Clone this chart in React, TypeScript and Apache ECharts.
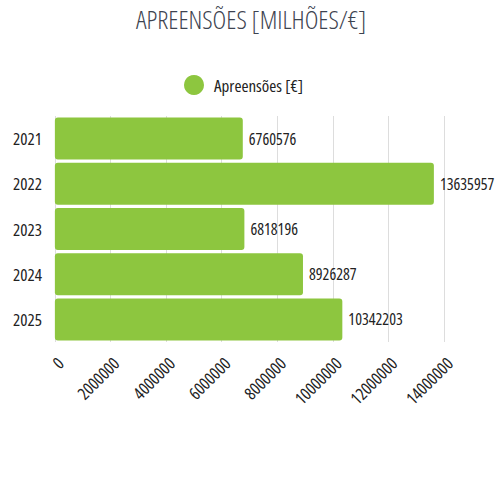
import React, { useEffect, useRef } from 'react';
import * as echarts from 'echarts';

// dados do gráfico
const years = ['2021', '2022', '2023', '2024', '2025'];
const seizures = [6760576, 13635957, 6818196, 8926287, 10342203];
const seriesName = 'Apreensões [€]';
const chartTitle = 'APREENSÕES [MILHÕES/€]';

// Open Sans é variável em largura: o CSS abaixo pede a versão estreita
const FONT = '"Open Sans"';

const App: React.FC = () => {
  const chartRef = useRef<HTMLDivElement>(null);

  useEffect(() => {
    if (!chartRef.current) return;
    const chart = echarts.init(chartRef.current, undefined, { renderer: 'svg' });

    const option: echarts.EChartsOption = {
      animation: false,
      title: {
        text: chartTitle,
        left: 131,
        top: 1,
        textStyle: {
          fontFamily: FONT,
          fontSize: 26,
          fontWeight: 300,
          color: '#3d4350',
        },
      },
      legend: {
        data: [seriesName],
        top: 70,
        left: 179,
        icon: 'circle',
        itemWidth: 20,
        itemHeight: 20,
        textStyle: {
          fontFamily: FONT,
          fontSize: 17,
          color: '#222',
          padding: [0, 0, 0, 5],
        },
      },
      grid: {
        left: 52,
        right: 56,
        top: 116,
        bottom: 158,
      },
      xAxis: {
        type: 'value',
        min: 0,
        max: 14000000,
        interval: 2000000,
        axisLine: { show: false },
        axisTick: { show: false },
        splitLine: { show: true, lineStyle: { color: '#dddddd', width: 1 } },
        axisLabel: {
          rotate: 45,
          margin: 24,
          fontFamily: FONT,
          fontSize: 17,
          color: '#222',
          padding: [0, -8, 0, 0],
          formatter: (v: number) => String(v),
        },
      },
      yAxis: {
        type: 'category',
        data: years,
        inverse: true,
        axisLine: { show: false },
        axisTick: { show: false },
        axisLabel: {
          margin: 13,
          fontFamily: FONT,
          fontSize: 17,
          color: '#222',
        },
      },
      series: [
        {
          name: seriesName,
          type: 'bar',
          data: seizures,
          barCategoryGap: '7%',
          itemStyle: { color: '#8dc63f', borderRadius: 3 },
          label: {
            show: true,
            position: 'right',
            distance: 6,
            fontFamily: FONT,
            fontSize: 16,
            color: '#222',
          },
        },
      ],
    };

    chart.setOption(option);
    return () => {
      chart.dispose();
    };
  }, []);

  return (
    <>
      <style>{'#root text { font-stretch: 50% !important; }'}</style>
      <div
        ref={chartRef}
        style={{ position: 'absolute', left: 0, top: 0, width: 500, height: 500 }}
      />
    </>
  );
};

export default App;
